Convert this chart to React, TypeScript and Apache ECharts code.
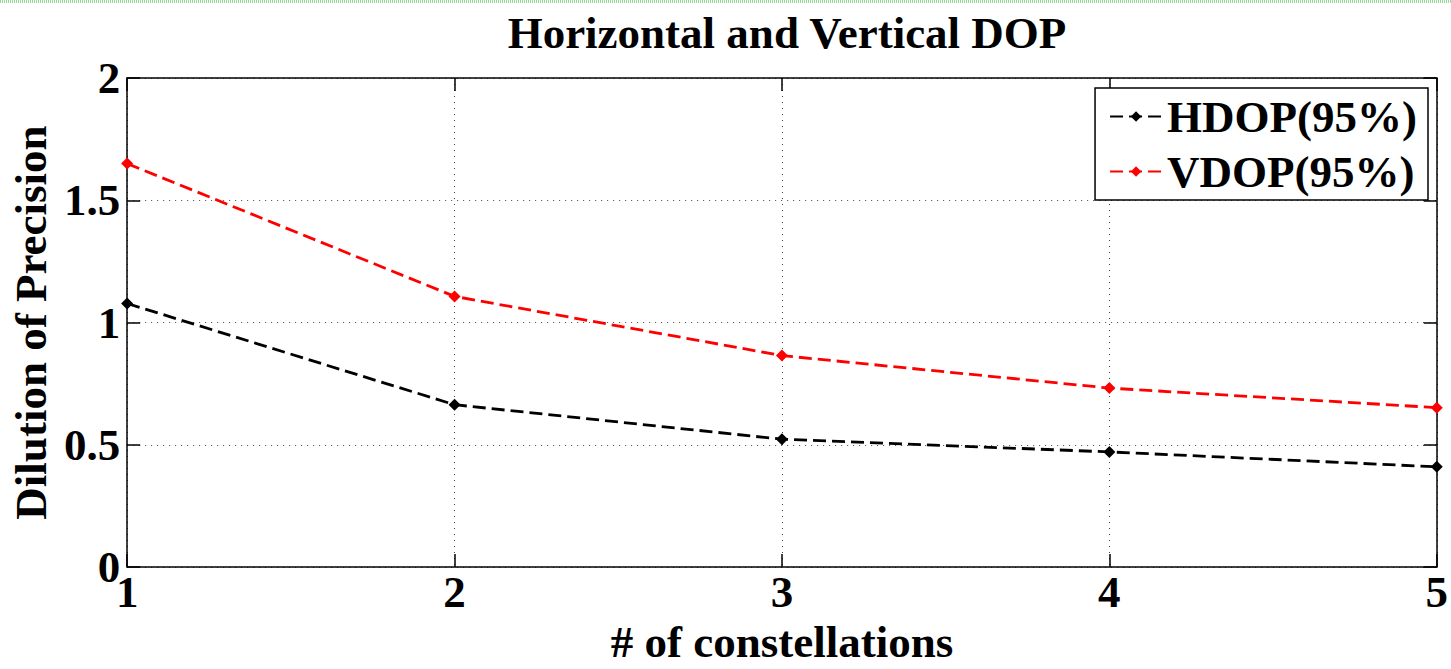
import React, { useEffect, useRef } from "react";
import * as echarts from "echarts";

const categories = [1, 2, 3, 4, 5];
const hdop = [1.078, 0.664, 0.523, 0.471, 0.41];
const vdop = [1.65, 1.107, 0.865, 0.732, 0.652];
const yTicks = [0, 0.5, 1, 1.5, 2];

const FONT = "'Liberation Serif', 'Times New Roman', serif";

export default function App() {
  const ref = useRef<HTMLDivElement>(null);
  useEffect(() => {
    document.body.style.margin = "0";
    const chart = echarts.init(ref.current!, null, { renderer: "svg" });
    const txt = { fontFamily: FONT, fontWeight: "bold" as const, fontSize: 45, color: "#000" };
    const gridLine = { show: true, lineStyle: { color: "#444", type: [1, 5] as any, width: 1 } };
    const axisLine = { show: true, onZero: false, lineStyle: { color: "#000", width: 1.5 } };
    const tick = { show: true, inside: true, length: 13, lineStyle: { color: "#000", width: 1.5 } };
    chart.setOption({
      animation: false,
      backgroundColor: "#fff",
      title: {
        text: "Horizontal and Vertical DOP",
        left: 782,
        textAlign: "center",
        top: 5,
        textStyle: { ...txt },
      },
      legend: {
        orient: "vertical",
        right: 23,
        top: 88,
        itemWidth: 52,
        itemHeight: 13,
        itemGap: 10,
        padding: [6, 11, 6, 14],
        borderColor: "#000",
        borderWidth: 1.5,
        borderRadius: 0,
        backgroundColor: "#fff",
        textStyle: { ...txt, padding: [0, 0, 0, 0] },
        data: ["HDOP(95%)", "VDOP(95%)"],
      },
      grid: { left: 127, right: 14, top: 78, bottom: 94, containLabel: false },
      xAxis: [
        {
          type: "value",
          min: 1,
          max: 5,
          interval: 1,
          name: "# of constellations",
          nameLocation: "middle",
          nameGap: 34,
          nameTextStyle: { ...txt },
          axisLine,
          axisTick: tick,
          axisLabel: { ...txt, margin: 2 },
          splitLine: gridLine,
        },
        {
          type: "value",
          position: "top",
          min: 1,
          max: 5,
          interval: 1,
          axisLine,
          axisTick: tick,
          axisLabel: { show: false },
          splitLine: { show: false },
        },
      ],
      yAxis: [
        {
          type: "value",
          min: yTicks[0],
          max: yTicks[yTicks.length - 1],
          interval: 0.5,
          name: "Dilution of Precision",
          nameLocation: "middle",
          nameGap: 72,
          nameTextStyle: { ...txt },
          axisLine,
          axisTick: tick,
          axisLabel: { ...txt, margin: 7, formatter: (v: number) => String(v) },
          splitLine: gridLine,
        },
        {
          type: "value",
          position: "right",
          min: yTicks[0],
          max: yTicks[yTicks.length - 1],
          interval: 0.5,
          axisLine,
          axisTick: tick,
          axisLabel: { show: false },
          splitLine: { show: false },
        },
      ],
      graphic: [
        {
          type: "line",
          shape: { x1: 0, y1: 1.5, x2: 1451, y2: 1.5 },
          style: { stroke: "#9ad89a", lineWidth: 3, lineDash: [1, 1] },
          silent: true,
        },
      ],
      series: [
        {
          name: "HDOP(95%)",
          type: "line",
          data: categories.map((c, i) => [c, hdop[i]]),
          symbol: "diamond",
          symbolSize: 12,
          itemStyle: { color: "#000" },
          lineStyle: { color: "#000", width: 2.8, type: [13, 6] as any },
          z: 5,
        },
        {
          name: "VDOP(95%)",
          type: "line",
          data: categories.map((c, i) => [c, vdop[i]]),
          symbol: "diamond",
          symbolSize: 12,
          itemStyle: { color: "#ff0000" },
          lineStyle: { color: "#ff0000", width: 2.8, type: [13, 6] as any },
          z: 5,
        },
      ],
    });
    return () => chart.dispose();
  }, []);
  return <div ref={ref} style={{ width: 1451, height: 669 }} />;
}
